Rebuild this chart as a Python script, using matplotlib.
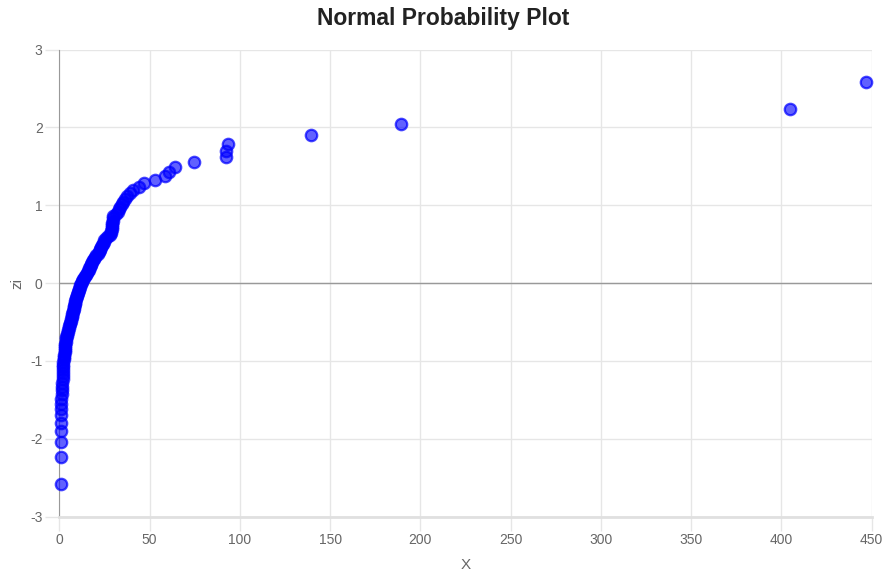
import matplotlib
matplotlib.use("Agg")
import matplotlib.pyplot as plt

plt.rcParams["axes.unicode_minus"] = False

# Normal scores (zi) for the sorted sample
zi = [-2.580, -2.230, -2.038, -1.900, -1.791, -1.700, -1.621, -1.551, -1.489, -1.430,
      -1.378, -1.328, -1.282, -1.238, -1.196, -1.156, -1.118, -1.082, -1.047, -1.013,
      -0.981, -0.949, -0.918, -0.889, -0.859, -0.831, -0.803, -0.776, -0.750, -0.724,
      -0.698, -0.673, -0.649, -0.624, -0.600, -0.576, -0.553, -0.530, -0.507, -0.485,
      -0.463, -0.441, -0.419, -0.397, -0.376, -0.355, -0.334, -0.313, -0.292, -0.271,
      -0.251, -0.230, -0.210, -0.190, -0.170, -0.149, -0.129, -0.109, -0.089, -0.070,
      -0.050, -0.030, -0.010, 0.010, 0.030, 0.050, 0.070, 0.089, 0.109, 0.129,
      0.149, 0.170, 0.190, 0.210, 0.230, 0.251, 0.271, 0.292, 0.313, 0.334,
      0.355, 0.376, 0.397, 0.419, 0.441, 0.463, 0.485, 0.507, 0.530, 0.553,
      0.576, 0.600, 0.624, 0.649, 0.673, 0.698, 0.724, 0.750, 0.776, 0.803,
      0.831, 0.859, 0.889, 0.918, 0.949, 0.981, 1.013, 1.047, 1.082, 1.118,
      1.156, 1.196, 1.238, 1.282, 1.328, 1.378, 1.430, 1.489, 1.551, 1.621,
      1.700, 1.791, 1.900, 2.038, 2.230, 2.580]

# Sample values (X)
x_vals = [1.0, 1.0, 0.9, 1.0, 1.1, 1.0, 1.1, 0.8, 1.2, 1.4,
          1.5, 1.6, 1.7, 1.8, 1.9, 2.0, 2.0, 2.1, 2.2, 2.3,
          2.4, 2.5, 2.7, 2.9, 3.0, 3.1, 3.2, 3.4, 3.5, 3.6,
          3.8, 4.1, 4.4, 4.7, 5.0, 5.3, 5.6, 5.9, 6.2, 6.4,
          6.6, 6.8, 7.0, 7.3, 7.5, 7.7, 7.9, 8.1, 8.3, 8.5,
          8.7, 8.9, 9.1, 9.3, 9.6, 9.9, 10.2, 10.5, 10.8, 11.1,
          11.4, 11.7, 12.0, 12.4, 12.8, 13.3, 13.8, 14.3, 14.8, 15.3,
          15.8, 16.2, 16.6, 17.0, 17.4, 17.8, 18.3, 18.8, 19.3, 19.9,
          20.5, 21.2, 21.9, 22.3, 22.7, 23.1, 23.6, 24.1, 24.5, 25.0,
          26.0, 27.0, 28.0, 28.5, 28.8, 29.0, 29.1, 29.2, 29.3, 29.5,
          29.7, 30.0, 31.5, 32.5, 33.0, 33.8, 34.6, 35.5, 36.5, 37.5,
          39.0, 41.0, 44.0, 47.0, 53.0, 58.5, 60.5, 64.0, 74.5, 92.2,
          92.6, 93.3, 139.3, 189.3, 404.5, 446.8]

x_ticks = [0, 50, 100, 150, 200, 250, 300, 350, 400, 450]
y_ticks = [-3, -2, -1, 0, 1, 2, 3]

W, H = 887, 573
fig = plt.figure(figsize=(W / 100, H / 100), dpi=100)
left, right, top, bottom = 59.3, 871.7, 49.5, 516.7
ax = fig.add_axes([left / W, 1 - bottom / H, (right - left) / W, (bottom - top) / H])

ax.scatter(x_vals, zi, s=68, facecolor=(0, 0, 1, 0.62), edgecolor=(0, 0, 1, 0.72),
           linewidths=1.6, zorder=3, clip_on=False)

ax.set_xlim(0, 450)
ax.set_ylim(-3, 3)
ax.set_xticks(x_ticks)
ax.set_yticks(y_ticks)

font = "Liberation Sans"
ax.set_axisbelow(True)
ax.grid(True, color="#e6e6e6", linewidth=1)
ax.axhline(0, color="#999999", linewidth=1, zorder=2)
for side in ["top", "right"]:
    ax.spines[side].set_visible(False)
ax.spines["left"].set_color("#999999")
ax.spines["bottom"].set_color("#e0e0e0")
ax.spines["bottom"].set_linewidth(2)
ax.tick_params(axis="both", colors="#e6e6e6", labelcolor="#666666", length=10, width=1,
               labelsize=10, pad=2)
for lab in ax.get_xticklabels() + ax.get_yticklabels():
    lab.set_fontfamily(font)

ax.set_xlabel("X", fontsize=11, color="#666666", family=font, labelpad=8)
ax.set_ylabel("zi", fontsize=11, color="#666666", family=font, labelpad=4)
fig.text(0.5, 1 - 18 / H, "Normal Probability Plot", ha="center", va="center",
         fontsize=16.5, fontweight="bold", color="#222222", family=font)

fig.savefig("out.png", dpi=100)
